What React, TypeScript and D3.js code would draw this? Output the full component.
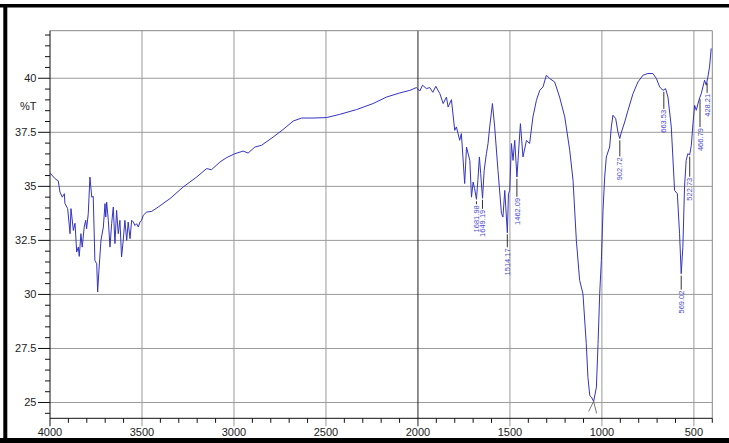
import React from "react";
import * as d3 from "d3";

// IR spectrum (cm-1 vs %T)
const wavenumber = [
  4000, 3973, 3955, 3946, 3933, 3922, 3919, 3904, 3891, 3886, 3873, 3864, 3855, 3846, 3841, 3832,
  3825, 3814, 3806, 3801, 3792, 3783, 3773, 3765, 3756, 3746, 3741, 3734, 3723, 3710, 3701, 3697,
  3692, 3683, 3674, 3665, 3656, 3647, 3638, 3629, 3620, 3611, 3602, 3593, 3583, 3575, 3565, 3556,
  3547, 3538, 3529, 3520, 3511, 3502, 3493, 3475, 3448, 3412, 3375, 3348, 3276, 3203, 3149, 3122,
  3077, 3040, 2995, 2950, 2923, 2886, 2850, 2787, 2733, 2678, 2633, 2570, 2497, 2425, 2334, 2244,
  2171, 2099, 2044, 2008, 1990, 1975, 1954, 1936, 1919, 1903, 1881, 1863, 1845, 1836, 1818, 1800,
  1791, 1773, 1764, 1746, 1736, 1718, 1709, 1700, 1692, 1682, 1674, 1666, 1659, 1649, 1640, 1628,
  1619, 1610, 1595, 1583, 1565, 1546, 1538, 1528, 1514, 1508, 1501, 1492, 1483, 1474, 1462, 1456,
  1443, 1429, 1410, 1393, 1375, 1356, 1338, 1320, 1302, 1284, 1257, 1230, 1202, 1175, 1157, 1139,
  1121, 1103, 1085, 1076, 1066, 1057, 1045, 1030, 1021, 1012, 1003, 994, 985, 976, 958, 949,
  940, 925, 913, 903, 894, 876, 858, 831, 804, 777, 750, 723, 704, 686, 668, 654,
  641, 623, 605, 590, 578, 569, 560, 551, 542, 533, 523, 514, 505, 496, 487, 473,
  460, 442, 433, 424, 415, 406,
];
const transmittance = [
  35.62, 35.36, 35.25, 34.74, 34.5, 34.66, 34.21, 33.97, 32.81, 33.97, 32.96, 33.29, 31.96, 32.19, 31.76, 32.81,
  32.19, 33.12, 33.43, 33.04, 33.74, 35.43, 34.5, 34.54, 31.57, 31.42, 30.11, 31.11, 32.5, 33.12, 34.2, 33.58,
  34.27, 33.43, 32.19, 33.27, 34.04, 32.35, 33.89, 32.81, 33.43, 31.73, 32.5, 33.43, 32.5, 33.35, 32.58, 33.43,
  33.35, 33.19, 33.27, 33.12, 33.35, 33.43, 33.66, 33.81, 33.84, 34.04, 34.27, 34.43, 34.97, 35.43, 35.82, 35.77,
  36.12, 36.33, 36.51, 36.63, 36.54, 36.82, 36.9, 37.28, 37.63, 38.02, 38.16, 38.16, 38.18, 38.33, 38.55, 38.83,
  39.13, 39.32, 39.44, 39.57, 39.41, 39.68, 39.52, 39.57, 39.35, 39.63, 39.29, 38.83, 39.13, 38.67, 39.01, 37.59,
  37.75, 37.13, 37.44, 35.13, 36.82, 36.2, 34.5, 35.2, 34.9, 34.4, 35.3, 36.36, 35.59, 34.45, 35.74, 36.51,
  36.98, 37.75, 38.83, 37.75, 35.74, 33.74, 33.58, 34.81, 32.85, 34.66, 34.81, 36.98, 36.2, 37.13, 35.43, 36.2,
  37.9, 36.36, 37.13, 36.98, 38.21, 38.98, 39.44, 39.6, 40.14, 39.99, 39.83, 39.13, 38.21, 36.67, 35.28, 32.5,
  30.65, 30.03, 27.72, 26.17, 25.32, 25.25, 25.05, 25.71, 27.73, 30.05, 31.57, 33.89, 35.43, 36.36, 36.82, 37.75,
  38.29, 38.13, 37.51, 37.21, 37.51, 37.98, 38.52, 39.29, 39.83, 40.14, 40.22, 40.22, 39.99, 39.6, 39.44, 39.52,
  39.13, 37.75, 34.81, 34.66, 32.81, 30.96, 32.19, 34.97, 36.2, 36.51, 36.45, 36.9, 37.9, 38.75, 38.52, 38.98,
  39.29, 39.91, 39.68, 40.06, 40.52, 41.38,
];

// peak picks printed on the chart
const peakWavenumbers = [1681.98, 1649.19, 1514.17, 1462.09, 902.72, 663.53, 569.02, 522.73, 466.79, 428.21];
const peakLabels = ["1681.98", "1649.19", "1514.17", "1462.09", "902.72", "663.53", "569.02", "522.73", "466.79", "428.21"];
// leader line length under each pick (px)
const peakLeader = [3, 9, 13, 18, 16, 17, 14, 20, 28, 10];

const xTickValues = [4000, 3500, 3000, 2500, 2000, 1500, 1000, 500];
const xTickLabels = ["4000", "3500", "3000", "2500", "2000", "1500", "1000", "500"];
const yTickValues = [25, 27.5, 30, 32.5, 35, 37.5, 40];
const yTickLabels = ["25", "27.5", "30", "32.5", "35", "37.5", "40"];

const W = 729;
const H = 443;
const left = 50, right = 712.3, top = 30.7, bottom = 418.3;
const font = "'Liberation Sans', Arial, sans-serif";

export default function App() {
  const x = d3.scaleLinear().domain([4000, 400]).range([left, right]);
  const y = d3.scaleLinear().domain([24.27, 42.2]).range([bottom, top]);

  const points = wavenumber.map((w, i) => [w, transmittance[i]] as [number, number]);
  const line = d3
    .line<[number, number]>()
    .x((d) => x(d[0]))
    .y((d) => y(d[1]));

  // value of the trace at a given wavenumber (trace is sorted descending)
  const traceAt = (w: number) => {
    const i = wavenumber.findIndex((v) => v <= w);
    if (i <= 0) return transmittance[Math.max(i, 0)];
    const t = (wavenumber[i - 1] - w) / (wavenumber[i - 1] - wavenumber[i]);
    return transmittance[i - 1] + t * (transmittance[i] - transmittance[i - 1]);
  };

  const minorX = d3.range(4000, 399, -100).filter((v) => v % 500 !== 0);
  const minorY = d3.range(24.5, 42.01, 0.5).filter((v) => Math.abs((v / 2.5) - Math.round(v / 2.5)) > 1e-6);

  // lowest point of the strong band (its pick label is clipped by the axis)
  const minIdx = d3.minIndex(transmittance);
  const mx = x(wavenumber[minIdx]);
  const my = y(transmittance[minIdx]);

  return (
    <svg width={W} height={H} style={{ position: "absolute", left: 0, top: 0, background: "#fff" }}>
      {/* outer black frame */}
      <rect x={0} y={4} width={W} height={3.5} fill="#000" />
      <rect x={3.3} y={4} width={4} height={H - 4} fill="#000" />
      <rect x={0} y={438} width={W} height={5} fill="#000" />

      {/* grid */}
      {yTickValues.map((v) => (
        <line key={"gy" + v} x1={left} x2={right} y1={y(v)} y2={y(v)} stroke="#9a9a9a" strokeWidth={1} />
      ))}
      {xTickValues.slice(1).map((v) => (
        <line
          key={"gx" + v}
          x1={x(v)}
          x2={x(v)}
          y1={top}
          y2={bottom + 8}
          stroke={v === 2000 ? "#222" : "#9a9a9a"}
          strokeWidth={1}
        />
      ))}
      {/* top / right frame */}
      <line x1={left} x2={right} y1={top} y2={top} stroke="#888" />
      <line x1={right} x2={right} y1={top} y2={bottom} stroke="#888" />

      {/* axes */}
      <line x1={left} x2={left} y1={top} y2={bottom + 8} stroke="#111" />
      <line x1={left} x2={right} y1={bottom} y2={bottom} stroke="#111" />
      {yTickValues.map((v, i) => (
        <g key={"ty" + v}>
          <line x1={left - 12} x2={left} y1={y(v)} y2={y(v)} stroke="#111" />
          <text
            x={left - 13.5}
            y={y(v)}
            dy="0.36em"
            textAnchor="end"
            fontFamily={font}
            fontSize={11}
            fill="#222"
          >
            {yTickLabels[i]}
          </text>
        </g>
      ))}
      {minorY.map((v) => (
        <line key={"my" + v} x1={left - 5} x2={left} y1={y(v)} y2={y(v)} stroke="#111" />
      ))}
      {minorX.map((v) => (
        <line key={"mx" + v} x1={x(v)} x2={x(v)} y1={bottom} y2={bottom + 4.5} stroke="#111" />
      ))}
      {xTickValues.map((v, i) => (
        <text
          key={"tx" + v}
          x={x(v)}
          y={436}
          textAnchor="middle"
          fontFamily={font}
          fontSize={11}
          fill="#222"
        >
          {xTickLabels[i]}
        </text>
      ))}
      <text x={36.5} y={110} textAnchor="end" fontFamily={font} fontSize={11} fill="#222">
        %T
      </text>

      {/* spectrum */}
      <path d={line(points) || ""} fill="none" stroke="#3434c4" strokeWidth={1} strokeLinejoin="round" />

      {/* clipped pick under the main band */}
      <line x1={mx} y1={my} x2={mx - 5} y2={my + 10} stroke="#555" strokeWidth={0.8} />
      <line x1={mx} y1={my} x2={mx + 3} y2={my + 12} stroke="#555" strokeWidth={0.8} />

      {/* peak picks */}
      {peakWavenumbers.map((w, i) => {
        const px = x(w);
        const py = y(traceAt(w)) + 2;
        const end = py + peakLeader[i];
        return (
          <g key={"pk" + i}>
            <line x1={px} x2={px} y1={py} y2={end} stroke="#333" strokeWidth={1} />
            <text
              transform={`translate(${px},${end + 1}) rotate(-90)`}
              textAnchor="end"
              dy="0.35em"
              fontFamily={font}
              fontSize={7.5}
              fill="#4a4ad6"
            >
              {peakLabels[i]}
            </text>
          </g>
        );
      })}
    </svg>
  );
}
